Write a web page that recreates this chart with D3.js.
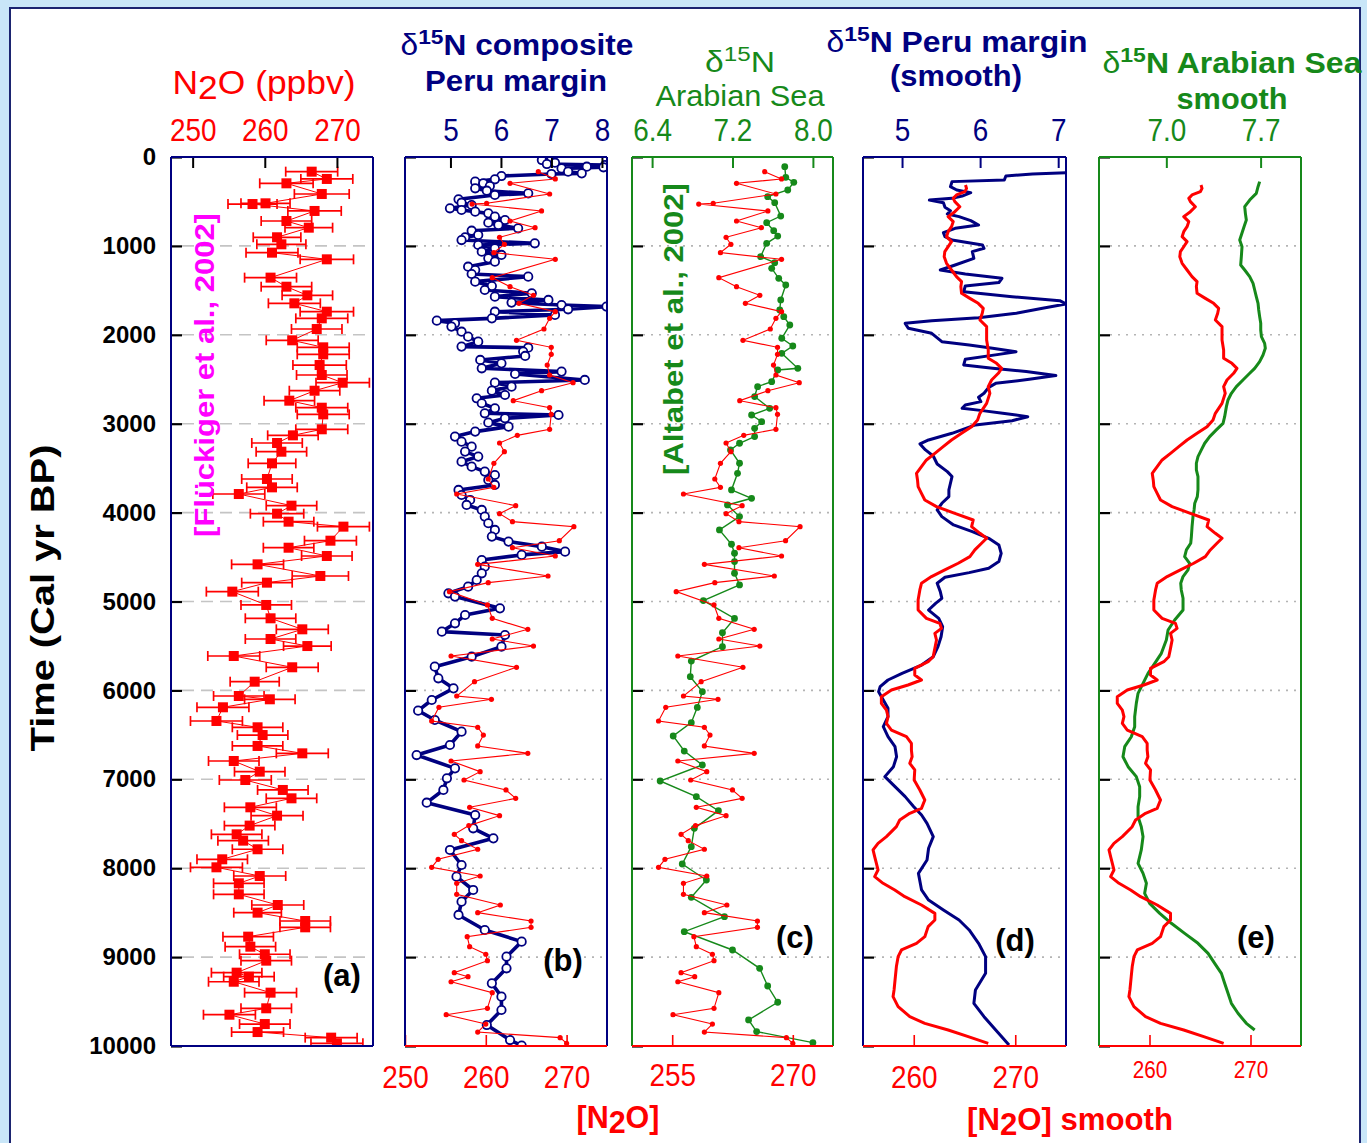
<!DOCTYPE html>
<html><head><meta charset="utf-8">
<script src="https://cdn.jsdelivr.net/npm/d3@7/dist/d3.min.js"></script>
<style>
html,body{margin:0;padding:0;background:#c9e6f8;}
svg{display:block;font-family:"Liberation Sans",Arial,sans-serif;}
</style></head><body>
<svg id="chart" width="1367" height="1143"></svg>
<script>
// ---------------- DATA ----------------
const timeTicks = [0,1000,2000,3000,4000,5000,6000,7000,8000,9000,10000];
const gridTicks = [1000,2000,3000,4000,5000,6000,7000,8000,9000];

// N2O (ppbv), Flückiger et al. 2002
const n2oTime = [165,247,296,416,521,529,607,720,795,903,982,1076,1151,1357,1459,1556,1646,1740,1815,1935,2062,2141,2220,2340,2452,2539,2629,2741,2820,2895,3063,3131,3217,3315,3446,3622,3716,3791,3922,4012,4102,4158,4316,4395,4488,4582,4713,4788,4889,5039,5189,5313,5422,5501,5613,5740,5902,6063,6100,6190,6344,6415,6502,6625,6708,6794,6914,7008,7120,7214,7315,7409,7521,7619,7690,7787,7900,7990,8088,8170,8294,8414,8500,8594,8665,8770,8883,8968,9040,9175,9220,9277,9400,9576,9648,9753,9843,9906,9970];
const n2oValue = [266.5,268.6,263.0,267.9,260.1,258.3,266.9,263.0,266.1,261.7,262.3,261.0,268.6,260.8,263.0,265.9,264.1,268.6,267.9,267.2,263.8,268.1,268.1,267.6,267.9,270.8,266.9,263.4,267.9,268.1,267.9,263.9,261.7,262.3,261.0,260.3,261.0,256.4,263.7,261.7,263.3,270.9,269.1,263.3,268.6,259.0,267.7,260.3,255.5,260.2,260.8,265.2,260.8,265.9,255.7,263.8,258.6,256.4,260.7,254.2,253.3,259.0,259.7,259.0,265.2,255.7,259.3,257.3,262.5,263.7,258.0,261.7,257.9,256.1,257.0,259.0,254.1,253.3,259.3,256.4,256.4,261.8,259.0,265.6,265.6,257.7,258.0,260.0,260.2,256.1,257.8,255.7,260.8,260.2,255.1,260.0,259.0,269.2,270.0];
const n2oErr = [3.6,3.6,3.7,3.8,3.4,3.4,3.7,3.5,3.3,3.3,3.4,3.6,3.7,3.6,3.5,3.5,3.6,3.7,3.6,3.5,3.6,3.6,3.6,3.7,3.5,3.7,3.5,3.5,3.6,3.6,3.6,3.5,3.5,3.5,3.3,3.5,3.5,3.6,3.5,3.7,3.5,3.6,3.6,3.5,3.5,3.6,3.9,3.5,3.6,3.5,3.5,3.6,3.5,3.3,3.6,3.6,3.4,3.5,3.5,3.6,3.6,3.5,3.5,3.5,3.6,3.5,3.5,3.6,3.5,3.5,3.6,3.6,3.5,3.5,3.5,3.5,3.5,3.6,3.6,3.5,3.5,3.6,3.3,3.5,3.5,3.5,3.5,3.5,3.5,3.5,3.5,3.5,3.6,3.5,3.6,3.5,3.6,3.6,3.6];

// d15N composite, Peru margin
const peruTime = [26,34,64,79,90,109,116,128,165,184,191,214,251,277,296,326,352,379,409,427,476,514,540,577,596,615,634,671,709,739,765,802,829,877,904,934,971,990,1027,1065,1102,1140,1177,1234,1271,1316,1346,1402,1451,1496,1533,1571,1608,1638,1665,1683,1713,1740,1777,1815,1841,1871,1908,1965,2021,2077,2133,2145,2189,2238,2283,2321,2377,2414,2441,2508,2538,2583,2628,2677,2714,2770,2827,2883,2902,2939,2988,3033,3089,3145,3202,3258,3314,3370,3427,3483,3539,3577,3633,3689,3745,3802,3858,3914,3970,4045,4120,4195,4270,4326,4383,4439,4476,4533,4608,4683,4758,4833,4908,4945,5077,5152,5245,5339,5377,5508,5621,5733,5864,5977,6108,6228,6333,6464,6614,6727,6877,6989,7120,7263,7402,7551,7664,7795,7964,8095,8245,8376,8526,8695,8826,8995,9126,9295,9445,9595,9764,9933,9995];
const peruValue = [7.00,6.81,7.07,6.91,8.06,7.70,8.03,7.20,7.33,7.60,7.00,6.01,5.88,5.49,5.65,5.78,5.49,5.72,6.54,5.88,5.16,5.22,5.42,4.99,5.22,5.49,5.75,5.88,6.08,5.75,5.95,6.34,5.42,5.55,5.29,5.22,6.67,5.55,5.88,5.62,6.01,5.75,5.88,5.35,5.49,5.42,6.54,5.49,5.82,5.68,6.61,5.88,6.94,6.21,7.20,8.09,7.33,5.88,7.07,5.82,4.73,5.09,5.02,5.22,5.35,5.55,5.22,6.54,6.44,6.48,5.59,6.01,5.62,7.20,6.28,7.66,5.88,6.21,5.82,6.08,5.52,5.62,5.88,5.68,7.14,6.08,5.75,6.15,5.49,5.09,5.22,5.42,5.29,5.55,5.22,5.42,5.68,5.88,5.75,5.88,5.16,5.22,5.39,5.32,5.62,5.68,5.75,5.88,5.82,6.15,6.81,7.27,6.41,5.62,5.68,5.62,5.52,5.35,4.96,5.09,5.98,5.29,5.09,4.83,6.08,6.01,5.42,4.69,4.76,5.06,4.63,4.36,4.69,5.22,4.99,4.33,5.09,4.93,4.86,4.53,5.49,5.45,5.85,4.99,5.22,5.12,5.45,5.22,5.16,5.68,6.41,6.11,6.11,5.82,6.01,6.01,5.72,6.18,6.41];

// d15N Arabian Sea, Altabet et al. 2002
const arabTime = [109,229,285,371,446,514,664,739,829,889,971,1121,1189,1252,1365,1440,1608,1721,1796,1890,2039,2126,2208,2377,2396,2527,2583,2695,2827,2902,2977,3052,3145,3220,3295,3445,3558,3745,3839,3914,4045,4195,4356,4457,4551,4682,4814,4990,5190,5351,5508,5670,5846,6014,6191,6363,6513,6682,6839,7019,7195,7353,7552,7758,7953,8133,8328,8545,8714,8920,9126,9325,9508,9707,9838,9962];
const arabValue = [7.72,7.73,7.81,7.75,7.55,7.62,7.68,7.54,7.61,7.65,7.54,7.48,7.62,7.59,7.66,7.73,7.68,7.67,7.71,7.77,7.69,7.80,7.69,7.85,7.65,7.59,7.45,7.42,7.57,7.39,7.49,7.42,7.42,7.27,7.18,7.27,7.25,7.19,7.39,7.15,7.27,7.07,7.19,7.22,7.22,7.22,7.27,6.91,7.22,7.10,7.10,6.79,6.78,6.90,6.85,6.79,6.61,6.72,6.90,6.48,6.84,7.06,6.82,6.79,6.70,6.94,6.79,7.12,6.72,7.20,7.47,7.55,7.65,7.36,7.44,8.00];

// d15N Peru margin (smooth)
const peruSmTime = [176,191,214,259,277,334,371,401,439,465,484,514,566,604,641,671,716,765,802,851,896,934,990,1027,1065,1140,1215,1271,1316,1365,1413,1451,1515,1571,1616,1653,1702,1758,1807,1841,1871,1927,1983,2077,2115,2152,2190,2220,2276,2339,2377,2414,2459,2501,2546,2591,2658,2703,2752,2789,2827,2853,2883,2921,2966,3014,3108,3183,3228,3295,3363,3453,3539,3595,3670,3745,3820,3895,3970,4045,4139,4214,4289,4364,4458,4551,4626,4675,4727,4795,4889,4964,5021,5096,5190,5283,5396,5508,5621,5715,5808,5883,5958,6014,6108,6202,6296,6408,6521,6633,6746,6858,6970,7083,7195,7308,7402,7495,7645,7776,7908,8058,8245,8358,8470,8583,8695,8845,8995,9182,9370,9520,9670,9820,9988];
const peruSmValue = [7.10,6.67,6.33,6.31,5.64,5.62,5.70,5.88,5.77,5.64,5.35,5.53,5.55,5.62,5.58,5.73,5.88,5.98,5.68,5.53,5.55,5.64,6.03,6.05,5.90,5.92,5.68,5.49,5.81,6.28,6.24,5.81,5.79,6.41,7.02,7.10,6.80,6.46,5.98,5.38,5.04,5.08,5.38,5.51,5.86,6.16,6.46,6.24,5.81,5.79,6.16,6.59,6.97,6.63,6.20,6.11,6.05,5.98,6.01,5.81,5.77,6.03,6.29,6.61,6.41,5.94,5.64,5.34,5.23,5.30,5.40,5.45,5.58,5.64,5.62,5.60,5.60,5.51,5.45,5.51,5.66,5.90,6.11,6.24,6.27,6.24,6.11,5.86,5.55,5.45,5.49,5.51,5.43,5.34,5.47,5.52,5.50,5.46,5.40,5.25,5.00,4.82,4.72,4.70,4.76,4.82,4.82,4.76,4.82,4.91,4.93,4.89,4.78,4.91,5.04,5.15,5.25,5.32,5.40,5.34,5.32,5.21,5.25,5.34,5.53,5.73,5.86,5.98,6.07,6.07,5.94,5.92,6.05,6.20,6.37];

// d15N Arabian Sea (smooth)
const arabSmTime = [277,334,409,484,559,634,709,784,877,934,1009,1121,1215,1271,1346,1421,1496,1571,1646,1721,1796,1871,1946,2021,2096,2152,2227,2302,2377,2433,2508,2583,2658,2733,2808,2921,2996,3070,3145,3220,3295,3370,3445,3520,3595,3670,3745,3820,3895,3970,4045,4158,4270,4345,4420,4495,4570,4645,4720,4795,4870,4964,5096,5208,5321,5433,5583,5696,5808,5921,6033,6146,6296,6408,6521,6633,6746,6858,6970,7083,7195,7308,7420,7533,7645,7795,7945,8058,8170,8283,8395,8508,8620,8733,8845,8958,9070,9183,9295,9407,9520,9632,9745,9820];
const arabSmValue = [7.693,7.681,7.668,7.619,7.582,7.587,7.594,7.577,7.557,7.545,7.562,7.557,7.552,7.582,7.619,7.644,7.656,7.668,7.681,7.686,7.693,7.701,7.701,7.706,7.730,7.735,7.718,7.693,7.656,7.619,7.569,7.520,7.483,7.458,7.446,7.433,7.421,7.371,7.322,7.285,7.260,7.235,7.223,7.223,7.235,7.235,7.235,7.230,7.211,7.206,7.198,7.191,7.186,7.181,7.149,7.136,7.173,7.161,7.124,7.107,7.111,7.124,7.124,7.062,7.013,7.000,6.963,6.914,6.864,6.827,6.790,6.777,6.765,6.765,6.740,6.691,6.678,6.716,6.777,6.802,6.802,6.790,6.790,6.814,6.827,6.814,6.790,6.827,6.852,6.839,6.876,6.951,7.037,7.136,7.235,7.310,7.359,7.409,7.433,7.458,7.483,7.532,7.594,7.656];

// [N2O] smooth
const n2oSmTime = [315,353,390,427,465,502,559,615,671,727,784,840,896,952,1009,1065,1121,1196,1271,1346,1402,1458,1533,1590,1646,1702,1758,1833,1908,1983,2058,2171,2264,2321,2377,2433,2508,2583,2658,2771,2883,2958,3033,3108,3183,3258,3333,3408,3483,3558,3633,3708,3783,3858,3933,4008,4083,4158,4233,4289,4345,4420,4495,4570,4645,4720,4795,4870,4983,5096,5190,5246,5302,5358,5433,5527,5621,5677,5752,5827,5883,5939,5996,6071,6146,6221,6296,6371,6446,6521,6596,6671,6746,6820,6895,7008,7120,7233,7327,7383,7458,7533,7645,7720,7795,7870,7945,8020,8095,8170,8245,8320,8414,8508,8583,8657,8770,8845,8920,8995,9107,9220,9370,9445,9557,9670,9745,9820,9895,9970];
const n2oSmValue = [265.10,265.20,265.04,264.21,263.89,264.05,264.54,264.05,263.39,263.89,263.72,263.39,263.23,263.72,263.39,263.06,263.00,263.23,263.72,264.21,264.71,264.64,264.71,265.53,266.35,266.85,266.75,266.52,267.18,267.18,267.18,267.34,267.34,268.16,268.66,268.33,267.67,267.34,267.50,267.18,266.52,266.29,265.70,264.71,263.72,262.90,262.08,261.25,260.76,260.27,260.37,260.43,260.76,261.09,262.24,264.05,265.86,265.70,266.52,267.18,266.68,266.02,265.53,264.38,263.06,261.75,260.76,260.60,260.43,260.43,261.25,262.57,262.73,262.08,262.24,262.08,261.91,261.42,260.10,260.10,260.76,259.44,257.80,256.81,256.81,257.31,257.47,257.31,257.80,259.28,259.77,259.77,259.84,259.61,260.10,260.04,260.60,261.09,260.76,259.61,258.62,258.29,257.31,256.48,255.99,256.15,256.32,256.48,256.15,256.98,258.13,259.12,260.76,262.08,262.08,261.42,261.09,260.27,258.79,258.46,258.29,258.19,258.06,257.96,258.46,259.61,261.09,263.39,265.37,267.34];

// axis tick labels
const topTicksA = [250,260,270];
const topTicksB = [5,6,7,8];
const topTicksC = [6.4,7.2,8.0];
const topTicksD = [5,6,7];
const topTicksE = [7.0,7.7];
const botTicksB = [250,260,270];
const botTicksC = [255,270];
const botTicksD = [260,270];
const botTicksE = [260,270];

// ---------------- DRAWING ----------------
const RED = "#ff0000", NAVY = "#000080", GREEN = "#16891a", MAG = "#ff00ff";
const FONT = '"Liberation Sans", Arial, sans-serif';
const svg = d3.select("#chart");

svg.append("rect").attr("x",10).attr("y",8).attr("width",1350).attr("height",1150)
  .attr("fill","#fff").attr("stroke","#1b2470").attr("stroke-width",2);

const Y0 = 157, Y1 = 1046;
const y = d3.scaleLinear().domain([0,10000]).range([Y0,Y1]);

const zip = (t,v) => t.map((d,i)=>({t:d, v:v[i]}));
const n2o = n2oTime.map((d,i)=>({t:d, v:n2oValue[i], e:n2oErr[i]}));
const peru = zip(peruTime, peruValue);
const arab = zip(arabTime, arabValue);
const peruSm = zip(peruSmTime, peruSmValue);
const arabSm = zip(arabSmTime, arabSmValue);
const n2oSm = zip(n2oSmTime, n2oSmValue);

function fitX(sel, w){
  const bb = sel.node().getBBox();
  const k = w / bb.width, cx = bb.x + bb.width/2;
  sel.attr("transform", `translate(${cx},0) scale(${k},1) translate(${-cx},0)`);
}

const panels = [
  {id:"a", x0:171, x1:373, top:[247,275], topTicks:topTicksA, topFmt:d3.format("d"), topColor:RED, topTickColor:"#000",
   frame:NAVY, bottomColor:NAVY, grid:"12,7"},
  {id:"b", x0:405, x1:607, top:[4.1,8.1], topTicks:topTicksB, topFmt:d3.format("d"), topColor:NAVY, topTickColor:"#000",
   frame:NAVY, bottomColor:RED, bot:[250,275], botTicks:botTicksB, botSize:31, botPad:20, grid:"2,6"},
  {id:"c", x0:632, x1:833, top:[6.2,8.2], topTicks:topTicksC, topFmt:d3.format(".1f"), topColor:GREEN, topTickColor:GREEN,
   frame:GREEN, bottomColor:RED, bot:[250,275], botTicks:botTicksC, botSize:31, botPad:18, grid:"2,6"},
  {id:"d", x0:863, x1:1066, top:[4.5,7.1], topTicks:topTicksD, topFmt:d3.format("d"), topColor:NAVY, topTickColor:NAVY,
   frame:NAVY, bottomColor:RED, bot:[255,275], botTicks:botTicksD, botSize:31, botPad:20, grid:"2,6"},
  {id:"e", x0:1099, x1:1301, top:[6.5,8.0], topTicks:topTicksE, topFmt:d3.format(".1f"), topColor:GREEN, topTickColor:GREEN,
   frame:GREEN, bottomColor:RED, bot:[255,275], botTicks:botTicksE, botSize:23, botPad:16, grid:"2,6"}
];

panels.forEach(p => {
  const xT = d3.scaleLinear().domain(p.top).range([p.x0,p.x1]);
  const xB = p.bot ? d3.scaleLinear().domain(p.bot).range([p.x0,p.x1]) : null;
  const g = svg.append("g");
  const clipId = "clip-" + p.id;
  svg.append("clipPath").attr("id",clipId).append("rect")
    .attr("x",p.x0).attr("y",Y0).attr("width",p.x1-p.x0).attr("height",Y1-Y0);

  // grid lines
  g.append("g").selectAll("line").data(gridTicks).join("line")
    .attr("x1",p.x0+11).attr("x2",p.x1).attr("y1",d=>y(d)).attr("y2",d=>y(d))
    .attr("stroke",p.id==="a"?"#c4c4c4":"#b4b4b4").attr("stroke-width",1.6).attr("stroke-dasharray",p.grid);

  const plot = g.append("g").attr("clip-path",`url(#${clipId})`);

  if (p.id === "a") {
    plot.append("path").datum(n2o).attr("fill","none").attr("stroke",RED).attr("stroke-width",1)
      .attr("d", d3.line().x(d=>xT(d.v)).y(d=>y(d.t)));
    const eb = plot.append("g").attr("stroke",RED).attr("stroke-width",1.7);
    eb.selectAll("line.h").data(n2o).join("line").attr("class","h")
      .attr("x1",d=>xT(d.v-d.e)).attr("x2",d=>xT(d.v+d.e)).attr("y1",d=>y(d.t)).attr("y2",d=>y(d.t));
    eb.selectAll("line.l").data(n2o).join("line").attr("class","l")
      .attr("x1",d=>xT(d.v-d.e)).attr("x2",d=>xT(d.v-d.e)).attr("y1",d=>y(d.t)-5).attr("y2",d=>y(d.t)+5);
    eb.selectAll("line.r").data(n2o).join("line").attr("class","r")
      .attr("x1",d=>xT(d.v+d.e)).attr("x2",d=>xT(d.v+d.e)).attr("y1",d=>y(d.t)-5).attr("y2",d=>y(d.t)+5);
    plot.append("g").selectAll("rect").data(n2o).join("rect")
      .attr("x",d=>xT(d.v)-5).attr("y",d=>y(d.t)-5).attr("width",10).attr("height",10).attr("fill",RED);
  }
  if (p.id === "b") {
    plot.append("path").datum(peru).attr("fill","none").attr("stroke",NAVY).attr("stroke-width",3.6)
      .attr("stroke-linejoin","round").attr("d", d3.line().x(d=>xT(d.v)).y(d=>y(d.t)));
    plot.append("g").selectAll("circle").data(peru).join("circle")
      .attr("cx",d=>xT(d.v)).attr("cy",d=>y(d.t)).attr("r",4.2)
      .attr("fill","#fff").attr("stroke",NAVY).attr("stroke-width",1.8);
    plot.append("path").datum(n2o).attr("fill","none").attr("stroke",RED).attr("stroke-width",1.1)
      .attr("d", d3.line().x(d=>xB(d.v)).y(d=>y(d.t)));
    plot.append("g").selectAll("circle").data(n2o).join("circle")
      .attr("cx",d=>xB(d.v)).attr("cy",d=>y(d.t)).attr("r",2.6).attr("fill",RED);
  }
  if (p.id === "c") {
    plot.append("path").datum(arab).attr("fill","none").attr("stroke",GREEN).attr("stroke-width",1.4)
      .attr("d", d3.line().x(d=>xT(d.v)).y(d=>y(d.t)));
    plot.append("g").selectAll("circle").data(arab).join("circle")
      .attr("cx",d=>xT(d.v)).attr("cy",d=>y(d.t)).attr("r",3.4).attr("fill",GREEN);
    plot.append("path").datum(n2o).attr("fill","none").attr("stroke",RED).attr("stroke-width",1.1)
      .attr("d", d3.line().x(d=>xB(d.v)).y(d=>y(d.t)));
    plot.append("g").selectAll("circle").data(n2o).join("circle")
      .attr("cx",d=>xB(d.v)).attr("cy",d=>y(d.t)).attr("r",2.6).attr("fill",RED);
  }
  if (p.id === "d") {
    plot.append("path").datum(peruSm).attr("fill","none").attr("stroke",NAVY).attr("stroke-width",3)
      .attr("stroke-linejoin","round").attr("d", d3.line().x(d=>xT(d.v)).y(d=>y(d.t)));
    plot.append("path").datum(n2oSm).attr("fill","none").attr("stroke",RED).attr("stroke-width",3)
      .attr("stroke-linejoin","round").attr("d", d3.line().x(d=>xB(d.v)).y(d=>y(d.t)));
  }
  if (p.id === "e") {
    plot.append("path").datum(arabSm).attr("fill","none").attr("stroke",GREEN).attr("stroke-width",3)
      .attr("stroke-linejoin","round").attr("d", d3.line().x(d=>xT(d.v)).y(d=>y(d.t)));
    plot.append("path").datum(n2oSm).attr("fill","none").attr("stroke",RED).attr("stroke-width",3)
      .attr("stroke-linejoin","round").attr("d", d3.line().x(d=>xB(d.v)).y(d=>y(d.t)));
  }

  // left axis (ticks inward)
  const la = svg.append("g").attr("transform",`translate(${p.x0},0)`)
    .call(d3.axisLeft(y).tickValues(timeTicks).tickSizeInner(-11).tickSizeOuter(0).tickPadding(15)
      .tickFormat(p.id==="a" ? d3.format("d") : ""));
  la.select(".domain").remove();
  la.selectAll("line").attr("stroke","#000").attr("stroke-width",2.2);
  la.selectAll("text").attr("font-family",FONT).attr("font-size",24).attr("font-weight","bold").attr("fill","#000");

  // top axis
  const ta = svg.append("g").attr("transform",`translate(0,${Y0})`)
    .call(d3.axisTop(xT).tickValues(p.topTicks).tickSizeInner(-11).tickSizeOuter(0).tickPadding(16).tickFormat(p.topFmt));
  ta.select(".domain").remove();
  ta.selectAll("line").attr("stroke",p.topTickColor).attr("stroke-width",2);
  ta.selectAll("text").attr("font-family",FONT).attr("font-size",31).attr("fill",p.topColor)
    .attr("transform","scale(0.9,1)");

  // bottom axis
  if (p.bot) {
    const ba = svg.append("g").attr("transform",`translate(0,${Y1})`)
      .call(d3.axisBottom(xB).tickValues(p.botTicks).tickSizeInner(-11).tickSizeOuter(0).tickPadding(p.botPad));
    ba.select(".domain").remove();
    ba.selectAll("line").attr("stroke",RED).attr("stroke-width",1.6);
    ba.selectAll("text").attr("font-family",FONT).attr("font-size",p.botSize).attr("fill",RED)
      .attr("transform","scale(0.9,1)");
  }

  // frame
  const fr = svg.append("g").attr("stroke-width",2).attr("fill","none");
  fr.append("line").attr("x1",p.x0).attr("x2",p.x1).attr("y1",Y0).attr("y2",Y0).attr("stroke",p.frame);
  fr.append("line").attr("x1",p.x0).attr("x2",p.x0).attr("y1",Y0).attr("y2",Y1).attr("stroke",p.frame);
  fr.append("line").attr("x1",p.x1).attr("x2",p.x1).attr("y1",Y0).attr("y2",Y1).attr("stroke",p.frame);
  fr.append("line").attr("x1",p.x0).attr("x2",p.x1).attr("y1",Y1).attr("y2",Y1).attr("stroke",p.bottomColor);
});

// ---------------- TEXTS ----------------
function txt(x, y, color, size, weight){
  return svg.append("text").attr("x",x).attr("y",y).attr("text-anchor","middle")
    .attr("fill",color).attr("font-size",size).attr("font-weight",weight||"normal").attr("font-family",FONT);
}
function delta(t, rest, size){
  t.append("tspan").text("δ").attr("font-weight","normal");
  t.append("tspan").text("15").attr("font-size",size*0.72).attr("dy",-size*0.38);
  t.append("tspan").text(rest).attr("dy",size*0.38);
}

// N2O (ppbv)
let t = txt(264, 94, RED, 33);
t.append("tspan").text("N");
t.append("tspan").text("2").attr("dy",5);
t.append("tspan").text("O (ppbv)").attr("dy",-5);
fitX(t, 183);

t = txt(517, 55, NAVY, 29, "bold"); delta(t, "N composite", 29); fitX(t, 233);
t = txt(516, 91, NAVY, 29, "bold").text("Peru margin"); fitX(t, 182);

t = txt(740, 72, GREEN, 29); delta(t, "N", 29); fitX(t, 70);
t = txt(740, 106, GREEN, 29).text("Arabian Sea"); fitX(t, 170);

t = txt(957, 52, NAVY, 29, "bold"); delta(t, "N Peru margin", 29); fitX(t, 261);
t = txt(956, 86, NAVY, 29, "bold").text("(smooth)"); fitX(t, 132);

t = txt(1232, 73, GREEN, 29, "bold"); delta(t, "N Arabian Sea", 29); fitX(t, 260);
t = txt(1232, 109, GREEN, 29, "bold").text("smooth"); fitX(t, 111);

// bottom titles
t = txt(618, 1128, RED, 31, "bold");
t.append("tspan").text("[N");
t.append("tspan").text("2").attr("dy",5);
t.append("tspan").text("O]").attr("dy",-5);
fitX(t, 83);
t = txt(1070, 1130, RED, 31, "bold");
t.append("tspan").text("[N");
t.append("tspan").text("2").attr("dy",5);
t.append("tspan").text("O] smooth").attr("dy",-5);
fitX(t, 206);

// panel letters
[["(a)",342,986],["(b)",563,971],["(c)",795,948],["(d)",1015,951],["(e)",1256,948]].forEach(([s,x,yy])=>{
  txt(x, yy, "#000", 31, "bold").text(s);
});

// vertical texts
function vtext(x, y, color, size, s, len){
  const g = svg.append("g").attr("transform",`translate(${x},${y}) rotate(-90)`);
  const tt = g.append("text").attr("text-anchor","middle").attr("fill",color).attr("font-size",size)
    .attr("font-weight","bold").attr("font-family",FONT).text(s);
  fitX(tt, len);
}
vtext(54, 598, "#000", 34, "Time (Cal yr BP)", 307);
vtext(214, 375, MAG, 27, "[Flückiger et al., 2002]", 324);
vtext(683, 329, GREEN, 28, "[Altabet et al., 2002]", 292);
</script>
</body></html>
